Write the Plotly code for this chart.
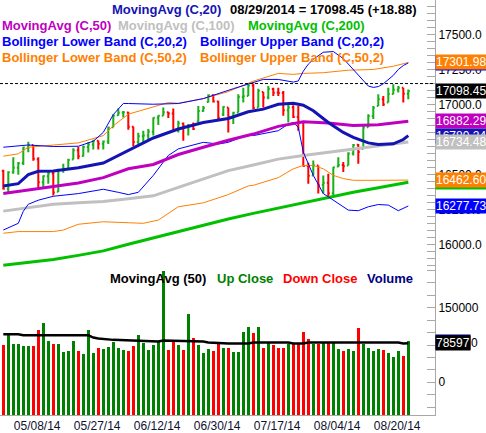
import pandas as pd
import plotly.graph_objects as go

# ---------------- data ----------------
HOLIDAYS = ["2014-05-26", "2014-07-04"]
DATES = [d for d in pd.bdate_range("2014-05-06", "2014-08-29")
         if d.strftime("%Y-%m-%d") not in HOLIDAYS]
TICK_DATES = ["2014-05-08", "2014-05-27", "2014-06-12", "2014-06-30",
              "2014-07-17", "2014-08-04", "2014-08-20"]

PREV_CLOSE = 16530.55
OPEN = [16530, 16401, 16519, 16551, 16584, 16695, 16713, 16612, 16447, 16490,
        16510, 16380, 16533, 16544, 16610, 16676, 16634, 16698, 16717, 16743,
        16722, 16738, 16840, 16925, 16943, 16945, 16843, 16735, 16776, 16781,
        16808, 16907, 16921, 16947, 16937, 16818, 16866, 16846, 16852, 16880,
        16956, 17020, 17068, 17024, 16930, 16980, 16915, 16945, 17056, 17063,
        17138, 16980, 17091, 17052, 17113, 17087, 17084, 16961, 16982, 16912,
        16874, 16563, 16496, 16567, 16430, 16443, 16368, 16560, 16570, 16567,
        16652, 16714, 16685, 16839, 16920, 16992, 17039, 17016, 17077, 17107,
        17122, 17079]
HIGH = [16536, 16525, 16625, 16592, 16700, 16737, 16713, 16626, 16496, 16520,
        16520, 16543, 16580, 16614, 16690, 16700, 16710, 16735, 16750, 16745,
        16745, 16845, 16933, 16973, 16955, 16950, 16845, 16800, 16815, 16827,
        16910, 16925, 16980, 16950, 16973, 16886, 16874, 16862, 16874, 16992,
        16992, 17075, 17075, 17028, 16990, 16980, 16950, 17075, 17122, 17146,
        17152, 17115, 17091, 17134, 17122, 17122, 17098, 17004, 16997, 16992,
        16874, 16586, 16603, 16567, 16496, 16508, 16556, 16626, 16591, 16662,
        16720, 16720, 16850, 16933, 16992, 17075, 17063, 17122, 17146, 17134,
        17122, 17110]
LOW = [16395, 16375, 16508, 16500, 16570, 16662, 16600, 16406, 16406, 16437,
       16353, 16378, 16515, 16540, 16610, 16612, 16630, 16660, 16680, 16680,
       16680, 16720, 16839, 16921, 16910, 16822, 16704, 16720, 16720, 16745,
       16780, 16855, 16921, 16905, 16810, 16803, 16744, 16780, 16820, 16874,
       16950, 17016, 17016, 16890, 16920, 16803, 16862, 16945, 17016, 17063,
       16969, 16980, 16980, 17040, 17063, 17063, 16921, 16874, 16905, 16815,
       16560, 16437, 16496, 16366, 16366, 16343, 16354, 16555, 16520, 16567,
       16638, 16579, 16685, 16839, 16898, 16992, 16992, 17016, 17075, 17087,
       17016, 17040]
CLOSE = [16401.02, 16518.54, 16550.97, 16583.34, 16695.47, 16715.44, 16613.97, 16446.81, 16491.31, 16511.86,
         16374.31, 16533.06, 16543.08, 16606.27, 16675.50, 16633.18, 16698.74, 16717.17, 16743.63, 16722.34,
         16737.53, 16836.11, 16924.28, 16943.10, 16945.92, 16843.88, 16734.19, 16775.74, 16781.01, 16808.49,
         16906.62, 16921.46, 16947.08, 16937.26, 16818.13, 16867.51, 16846.13, 16851.84, 16826.60, 16956.07,
         16976.24, 17068.26, 17024.21, 16906.62, 16985.61, 16915.07, 16943.81, 17055.42, 17060.68, 17138.20,
         16976.81, 17100.18, 17051.73, 17113.54, 17086.63, 17083.80, 16960.57, 16982.59, 16912.11, 16880.36,
         16563.30, 16493.37, 16569.28, 16429.47, 16443.34, 16368.27, 16553.93, 16569.98, 16560.54, 16651.80,
         16713.58, 16662.91, 16838.74, 16919.59, 16979.13, 17039.49, 17001.22, 17076.87, 17106.70, 17122.01,
         17079.57, 17098.45]
CHANGE_TEXT = "08/29/2014 = 17098.45 (+18.88)"
ATH = 17151.56

VOLUME = [74000, 96667, 76000, 76000, 72000, 72000, 72000, 106000, 120000, 82000,
          76000, 76000, 60000, 62000, 82000, 62000, 56000, 106000, 58000, 68000,
          66000, 70000, 80000, 68000, 64000, 62000, 72000, 96000, 78000, 64000,
          74000, 80000, 223333, 64000, 80000, 74000, 64000, 138000, 90000, 74000,
          58000, 66000, 62000, 76000, 68000, 68000, 60000, 60000, 102000, 112000,
          100000, 112000, 68000, 78000, 74000, 68000, 68000, 76000, 76000, 78000,
          102000, 86000, 76000, 76000, 80000, 80000, 78000, 66000, 62000, 66000,
          62000, 110000, 76000, 68000, 62000, 66000, 64000, 58000, 50000, 62000,
          52000, 82000]
VMA_IDX = [0, 3, 4, 10, 11, 12, 17, 18, 19, 22, 28, 31, 32, 40, 41, 45, 49, 50, 57, 58, 60, 61, 79, 80, 81]
VMA_VAL = [96667, 96667, 94667, 94667, 96000, 94667, 94667, 90000, 88000, 85333, 83333, 82000, 84000,
           82000, 80000, 78000, 78000, 80000, 80000, 78000, 78000, 80000, 80000, 78000, 78597]

MA20_IDX = [0, 3, 5, 7, 10, 15, 20, 25, 30, 35, 40, 45, 49, 52, 55, 58, 60, 62, 65, 68, 70, 73, 75, 78, 80, 81]
MA20_VAL = [16421, 16437, 16501, 16525, 16527, 16550, 16584, 16673, 16763, 16827, 16874, 16902, 16950,
            16969, 17004, 17011, 16997, 16957, 16874, 16803, 16768, 16728, 16716, 16721, 16752, 16780.24]
MA_IDX = [0, 5, 10, 15, 20, 25, 30, 35, 40, 45, 50, 55, 60, 65, 70, 75, 81]
MA50_VAL = [16366, 16392, 16413, 16442, 16480, 16543, 16574, 16645, 16697, 16747, 16791, 16846, 16879,
            16870, 16853, 16858, 16882.29]
MA100_VAL = [16241, 16265, 16290, 16300, 16310, 16330, 16350, 16410, 16470, 16530, 16570, 16612, 16638,
             16662, 16685, 16705, 16734.48]
MA200_VAL = [15854, 15875, 15896, 15925, 15957, 16005, 16050, 16098, 16145, 16185, 16225, 16262, 16298,
             16340, 16375, 16408, 16447.50]
BB20U_IDX = [0, 5, 10, 15, 18, 20, 22, 24, 25, 30, 35, 40, 46, 49, 52, 55, 58, 59, 60, 61, 62, 64, 66,
             68, 70, 71, 72, 73, 74, 75, 76, 77, 78, 79, 80, 81]
BB20U_VAL = [16697, 16713, 16702, 16704, 16740, 16803, 16930, 17009, 17009, 17004, 17009, 17044, 17115,
             17146, 17181, 17181, 17162, 17170, 17240, 17290, 17325, 17375, 17380, 17330, 17250, 17216,
             17170, 17134, 17124, 17130, 17150, 17181, 17210, 17252, 17280, 17299.10]
BB20L_IDX = [0, 3, 4, 5, 7, 10, 15, 20, 23, 25, 27, 30, 33, 35, 40, 43, 45, 49, 50, 55, 57, 58, 59, 60,
             62, 64, 65, 67, 69, 71, 73, 75, 77, 79, 81]
BB20L_VAL = [16106, 16154, 16240, 16290, 16319, 16347, 16366, 16397, 16375, 16359, 16375, 16496, 16638,
             16685, 16732, 16720, 16732, 16787, 16780, 16815, 16862, 16874, 16839, 16662, 16496, 16366,
             16343, 16295, 16248, 16244, 16272, 16288, 16284, 16244, 16277.73]
BB50U_IDX = [0, 3, 5, 10, 15, 20, 22, 25, 30, 33, 35, 40, 45, 49, 50, 55, 58, 60, 64, 69, 74, 78, 81]
BB50U_VAL = [16633, 16650, 16697, 16713, 16728, 16780, 16850, 16933, 16987, 17016, 17011, 17044, 17094,
             17153, 17169, 17224, 17217, 17224, 17229, 17247, 17252, 17275, 17301.98]
BB50L_IDX = [0, 3, 10, 12, 15, 20, 25, 28, 31, 33, 35, 40, 45, 49, 50, 55, 58, 60, 62, 64, 66, 68, 70, 75, 81]
BB50L_VAL = [16083, 16095, 16095, 16106, 16147, 16165, 16158, 16154, 16177, 16225, 16272, 16300, 16359,
             16421, 16425, 16480, 16543, 16567, 16567, 16543, 16496, 16473, 16461, 16461, 16462.60]

# ---------------- style ----------------
FONT = "Liberation Sans, Arial, sans-serif"
AX = "#a8a8a8"
C_UP, C_DN = "#18b018", "#ff0000"
V_UP, V_DN = "#008000", "#ff0000"
C_MA20, C_MA50, C_MA100, C_MA200 = "#1414b4", "#c000c0", "#c0c0c0", "#00c000"
C_BB20, C_BB50 = "#0000ff", "#ff8000"
PLOT_W, PLOT_H = 435, 418
PRICE_RANGE = [15834.5, 17748]
VOL_RANGE = [-66000, 230000]
SPLIT = (PLOT_H - 270) / PLOT_H

x = list(range(len(DATES)))
prev = [PREV_CLOSE] + CLOSE[:-1]
up = [c >= p for c, p in zip(CLOSE, prev)]

fig = go.Figure()

def line(idx, vals, color, width):
    fig.add_trace(go.Scatter(x=idx, y=vals, mode="lines", line=dict(color=color, width=width),
                             hoverinfo="skip", yaxis="y"))

line(MA_IDX, MA200_VAL, C_MA200, 3)
line(MA_IDX, MA100_VAL, C_MA100, 3)
line(BB50L_IDX, BB50L_VAL, C_BB50, 1)
line(BB50U_IDX, BB50U_VAL, C_BB50, 1)
line(BB20L_IDX, BB20L_VAL, C_BB20, 1)
line(BB20U_IDX, BB20U_VAL, C_BB20, 1)
line(MA_IDX, MA50_VAL, C_MA50, 3)
line(MA20_IDX, MA20_VAL, C_MA20, 3)

for flag, col in ((True, C_UP), (False, C_DN)):
    ids = [i for i in x if up[i] == flag]
    fig.add_trace(go.Ohlc(
        x=ids, open=[OPEN[i] for i in ids], high=[HIGH[i] for i in ids],
        low=[LOW[i] for i in ids], close=[CLOSE[i] for i in ids],
        increasing=dict(line=dict(color=col, width=2)),
        decreasing=dict(line=dict(color=col, width=2)),
        tickwidth=0.3, hoverinfo="skip", yaxis="y"))

fig.add_trace(go.Bar(x=x, y=[v - VOL_RANGE[0] for v in VOLUME], base=VOL_RANGE[0],
                     marker=dict(color=[V_UP if u else V_DN for u in up], line=dict(width=0)),
                     width=0.6, yaxis="y2", hoverinfo="skip"))
fig.add_trace(go.Scatter(x=VMA_IDX, y=VMA_VAL, mode="lines", line=dict(color="black", width=2.5),
                         yaxis="y2", hoverinfo="skip"))

fig.add_shape(type="line", xref="paper", x0=0, x1=1, yref="y", y0=ATH, y1=ATH,
              line=dict(color="black", width=1, dash="3px,2px"), layer="above")

ann = []
def txt(s, xpx, ypx, color, size=13, bold=True):
    ann.append(dict(text=f"<b>{s}</b>" if bold else s, x=xpx / PLOT_W, y=1 - ypx / PLOT_H,
                    xref="paper", yref="paper", xanchor="left", yanchor="middle",
                    showarrow=False, font=dict(family=FONT, size=size, color=color), borderpad=0))

txt("MovingAvg (C,20)", 111, 10, C_MA20)
txt(CHANGE_TEXT, 229, 10, "black")
txt("MovingAvg (C,50)", 1, 26, C_MA50)
txt("MovingAvg (C,100)", 117, 26, C_MA100)
txt("MovingAvg (C,200)", 247, 26, C_MA200)
txt("Bollinger Lower Band (C,20,2)", 1, 42, C_BB20)
txt("Bollinger Upper Band (C,20,2)", 199, 42, C_BB20)
txt("Bollinger Lower Band (C,50,2)", 1, 58, C_BB50)
txt("Bollinger Upper Band (C,50,2)", 199, 58, C_BB50)
txt("MovingAvg (50)", 109, 281, "black")
txt("Up Close", 216, 281, V_UP)
txt("Down Close", 282, 281, V_DN)
txt("Volume", 366, 281, "#000080")

def box(val, color, yref="y", text=None):
    ann.append(dict(text=text if text is not None else f"{val:.2f}", x=1, y=val, xref="paper", yref=yref,
                    xanchor="left", yanchor="middle", showarrow=False, bgcolor=color, borderpad=0,
                    font=dict(family=FONT, size=12, color="white")))

box(BB20U_VAL[-1], C_BB20)
box(BB50U_VAL[-1], C_BB50)
box(CLOSE[-1], "black")
box(MA50_VAL[-1], C_MA50)
box(MA20_VAL[-1], C_MA20)
box(MA100_VAL[-1], C_MA100)
box(MA200_VAL[-1], C_MA200)
box(BB50L_VAL[-1], C_BB50)
box(BB20L_VAL[-1], C_BB20)
box(VOLUME[-1], "#000080", "y2", f"{VOLUME[-1]:d}")
vma_txt = f"{VMA_VAL[-1]:d}0"
box(VMA_VAL[-1], "black", "y2", vma_txt[:-1])
ann.append(dict(text=vma_txt[-1], x=1, y=VMA_VAL[-1], xref="paper", yref="y2", xanchor="left",
                yanchor="middle", xshift=34, showarrow=False,
                font=dict(family=FONT, size=12, color="black")))

tick_idx = [DATES.index(pd.Timestamp(d)) for d in TICK_DATES]
tick_txt = [pd.Timestamp(d).strftime("%m/%d/%y") for d in TICK_DATES]

yax_common = dict(side="right", showgrid=False, zeroline=False, showline=True, linecolor=AX,
                  linewidth=1, ticks="inside", ticklen=8, tickcolor=AX, tickwidth=1,
                  tickfont=dict(family=FONT, size=12, color="black"), fixedrange=True)

fig.update_layout(
    width=486, height=433, margin=dict(l=0, r=51, t=0, b=15),
    paper_bgcolor="white", plot_bgcolor="white", showlegend=False,
    annotations=ann,
    xaxis=dict(range=[-0.66, 86.34], anchor="y2", showgrid=False, zeroline=False, showline=True,
               linecolor=AX, linewidth=1, ticks="", tickvals=tick_idx, ticktext=tick_txt,
               ticklabelposition="outside right", rangeslider=dict(visible=False),
               tickfont=dict(family=FONT, size=12, color="#101030"), fixedrange=True),
    yaxis=dict(domain=[SPLIT, 1], range=PRICE_RANGE, dtick=250, tick0=0, tickformat=".1f",
               minor=dict(dtick=50, tick0=0, ticks="inside", ticklen=8, tickcolor=AX, showgrid=False),
               **yax_common),
    yaxis2=dict(domain=[0, SPLIT], range=VOL_RANGE, anchor="x", dtick=150000, tick0=0, tickformat="d",
                minor=dict(dtick=25000, tick0=0, ticks="inside", ticklen=8, tickcolor=AX, showgrid=False),
                **yax_common),
    bargap=0,
)

fig.write_html("out.html")
